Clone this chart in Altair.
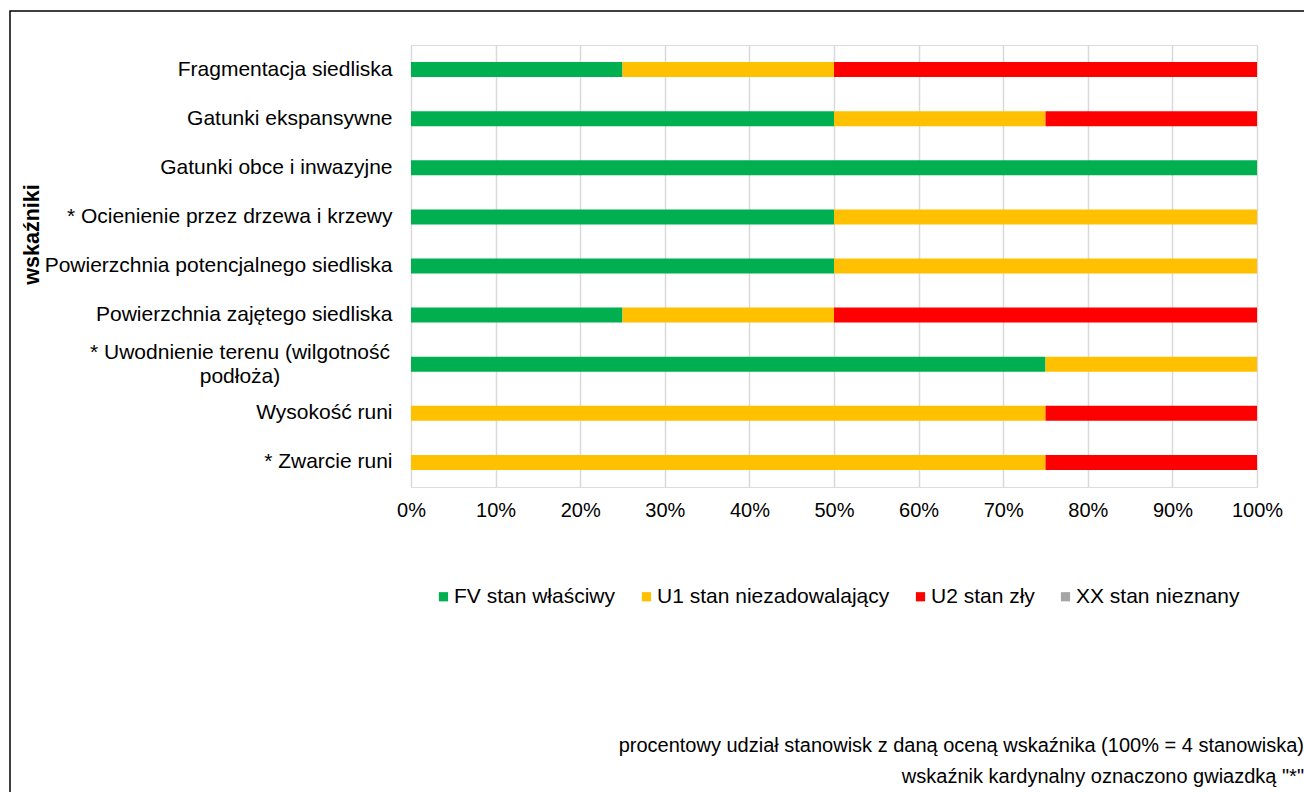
import altair as alt
import pandas as pd

categories = [
    "Fragmentacja siedliska",
    "Gatunki ekspansywne",
    "Gatunki obce i inwazyjne",
    "* Ocienienie przez drzewa i krzewy",
    "Powierzchnia potencjalnego siedliska",
    "Powierzchnia zajętego siedliska",
    "* Uwodnienie terenu (wilgotność podłoża)",
    "Wysokość runi",
    "* Zwarcie runi",
]
series = ["FV stan właściwy", "U1 stan niezadowalający", "U2 stan zły", "XX stan nieznany"]
colors = ["#00B050", "#FFC000", "#FF0000", "#A5A5A5"]
fv = [0.25, 0.50, 1.00, 0.50, 0.50, 0.25, 0.75, 0.00, 0.00]
u1 = [0.25, 0.25, 0.00, 0.50, 0.50, 0.25, 0.25, 0.75, 0.75]
u2 = [0.50, 0.25, 0.00, 0.00, 0.00, 0.50, 0.00, 0.25, 0.25]
xx = [0.0] * 9
x_ticks = [i / 10 for i in range(11)]
notes = [
    "procentowy udział stanowisk z daną oceną wskaźnika (100% = 4 stanowiska)",
    'wskaźnik kardynalny oznaczono gwiazdką "*"',
]
wrapped_label = ["* Uwodnienie terenu (wilgotność", "podłoża)"]

rows = []
for i, c in enumerate(categories):
    for k, (s, vals) in enumerate(zip(series, [fv, u1, u2, xx])):
        if vals[i] > 0:
            rows.append({"cat": c, "series": s, "val": vals[i], "ord": k})
df = pd.DataFrame(rows)

FONT = "Liberation Sans"

bars = alt.Chart(df).mark_bar(size=15).encode(
    x=alt.X("val:Q", stack="zero",
            scale=alt.Scale(domain=[0, 1], nice=False),
            axis=alt.Axis(values=x_ticks, format=".0%", title=None, ticks=False,
                          domain=False, grid=True, gridColor="#D9D9D9", gridWidth=1.5,
                          labelFontSize=20, labelFont=FONT, labelColor="#000000",
                          labelPadding=13, labelFlush=False, labelOverlap=False)),
    y=alt.Y("cat:N", sort=categories,
            axis=alt.Axis(title="wskaźniki", ticks=False, domain=False,
                          labelFontSize=21, labelFont=FONT, labelColor="#000000",
                          labelPadding=19, labelLimit=0,
                          labelExpr="indexof(datum.value, 'Uwodnienie') >= 0 ? '' : datum.value",
                          titleFont=FONT, titleFontSize=21.5, titleFontWeight="bold",
                          titleColor="#000000", titleX=-379, titleY=189,
                          titleAlign="center", titleBaseline="middle", titleAngle=270)),
    color=alt.Color("series:N", scale=alt.Scale(domain=series, range=colors),
                    legend=alt.Legend(title=None, orient="none", direction="horizontal",
                                      legendX=22, legendY=541, symbolType="square",
                                      symbolSize=85, symbolStrokeWidth=0,
                                      labelFont=FONT, labelFontSize=21,
                                      labelColor="#000000", labelLimit=0,
                                      columnPadding=20, labelOffset=0)),
    order=alt.Order("ord:Q"),
)

lab_df = pd.DataFrame({"cat": [categories[6]], "txt": [wrapped_label]})
wrapped = alt.Chart(lab_df).mark_text(align="center", baseline="middle", font=FONT,
                                       fontSize=21, lineHeight=24, dy=-11,
                                       color="#000000").encode(
    y=alt.Y("cat:N", sort=categories),
    x=alt.value(-171),
    text="txt",
)

notes_df = pd.DataFrame({"txt": notes, "yy": [701, 732]})
foot = alt.Chart(notes_df).mark_text(align="right", baseline="middle", font=FONT,
                                      fontSize=20, color="#000000").encode(
    x=alt.value(893),
    y=alt.Y("yy:Q", scale=None),
    text="txt",
)

border = alt.Chart(pd.DataFrame({"a": [0]})).mark_rect(
    fillOpacity=0, stroke="#000000", strokeWidth=1.5).encode(
    x=alt.value(-401), x2=alt.value(905), y=alt.value(-34), y2=alt.value(760),
)

chart = alt.layer(border, bars, wrapped, foot).properties(
    width=846, height=442,
    autosize=alt.AutoSizeParams(type="none"),
    padding={"left": 411, "top": 45, "right": 47, "bottom": 305},
).configure_view(stroke=None).configure(background="white")

chart.save("out.html", embed_options={"renderer": "svg", "actions": False})
